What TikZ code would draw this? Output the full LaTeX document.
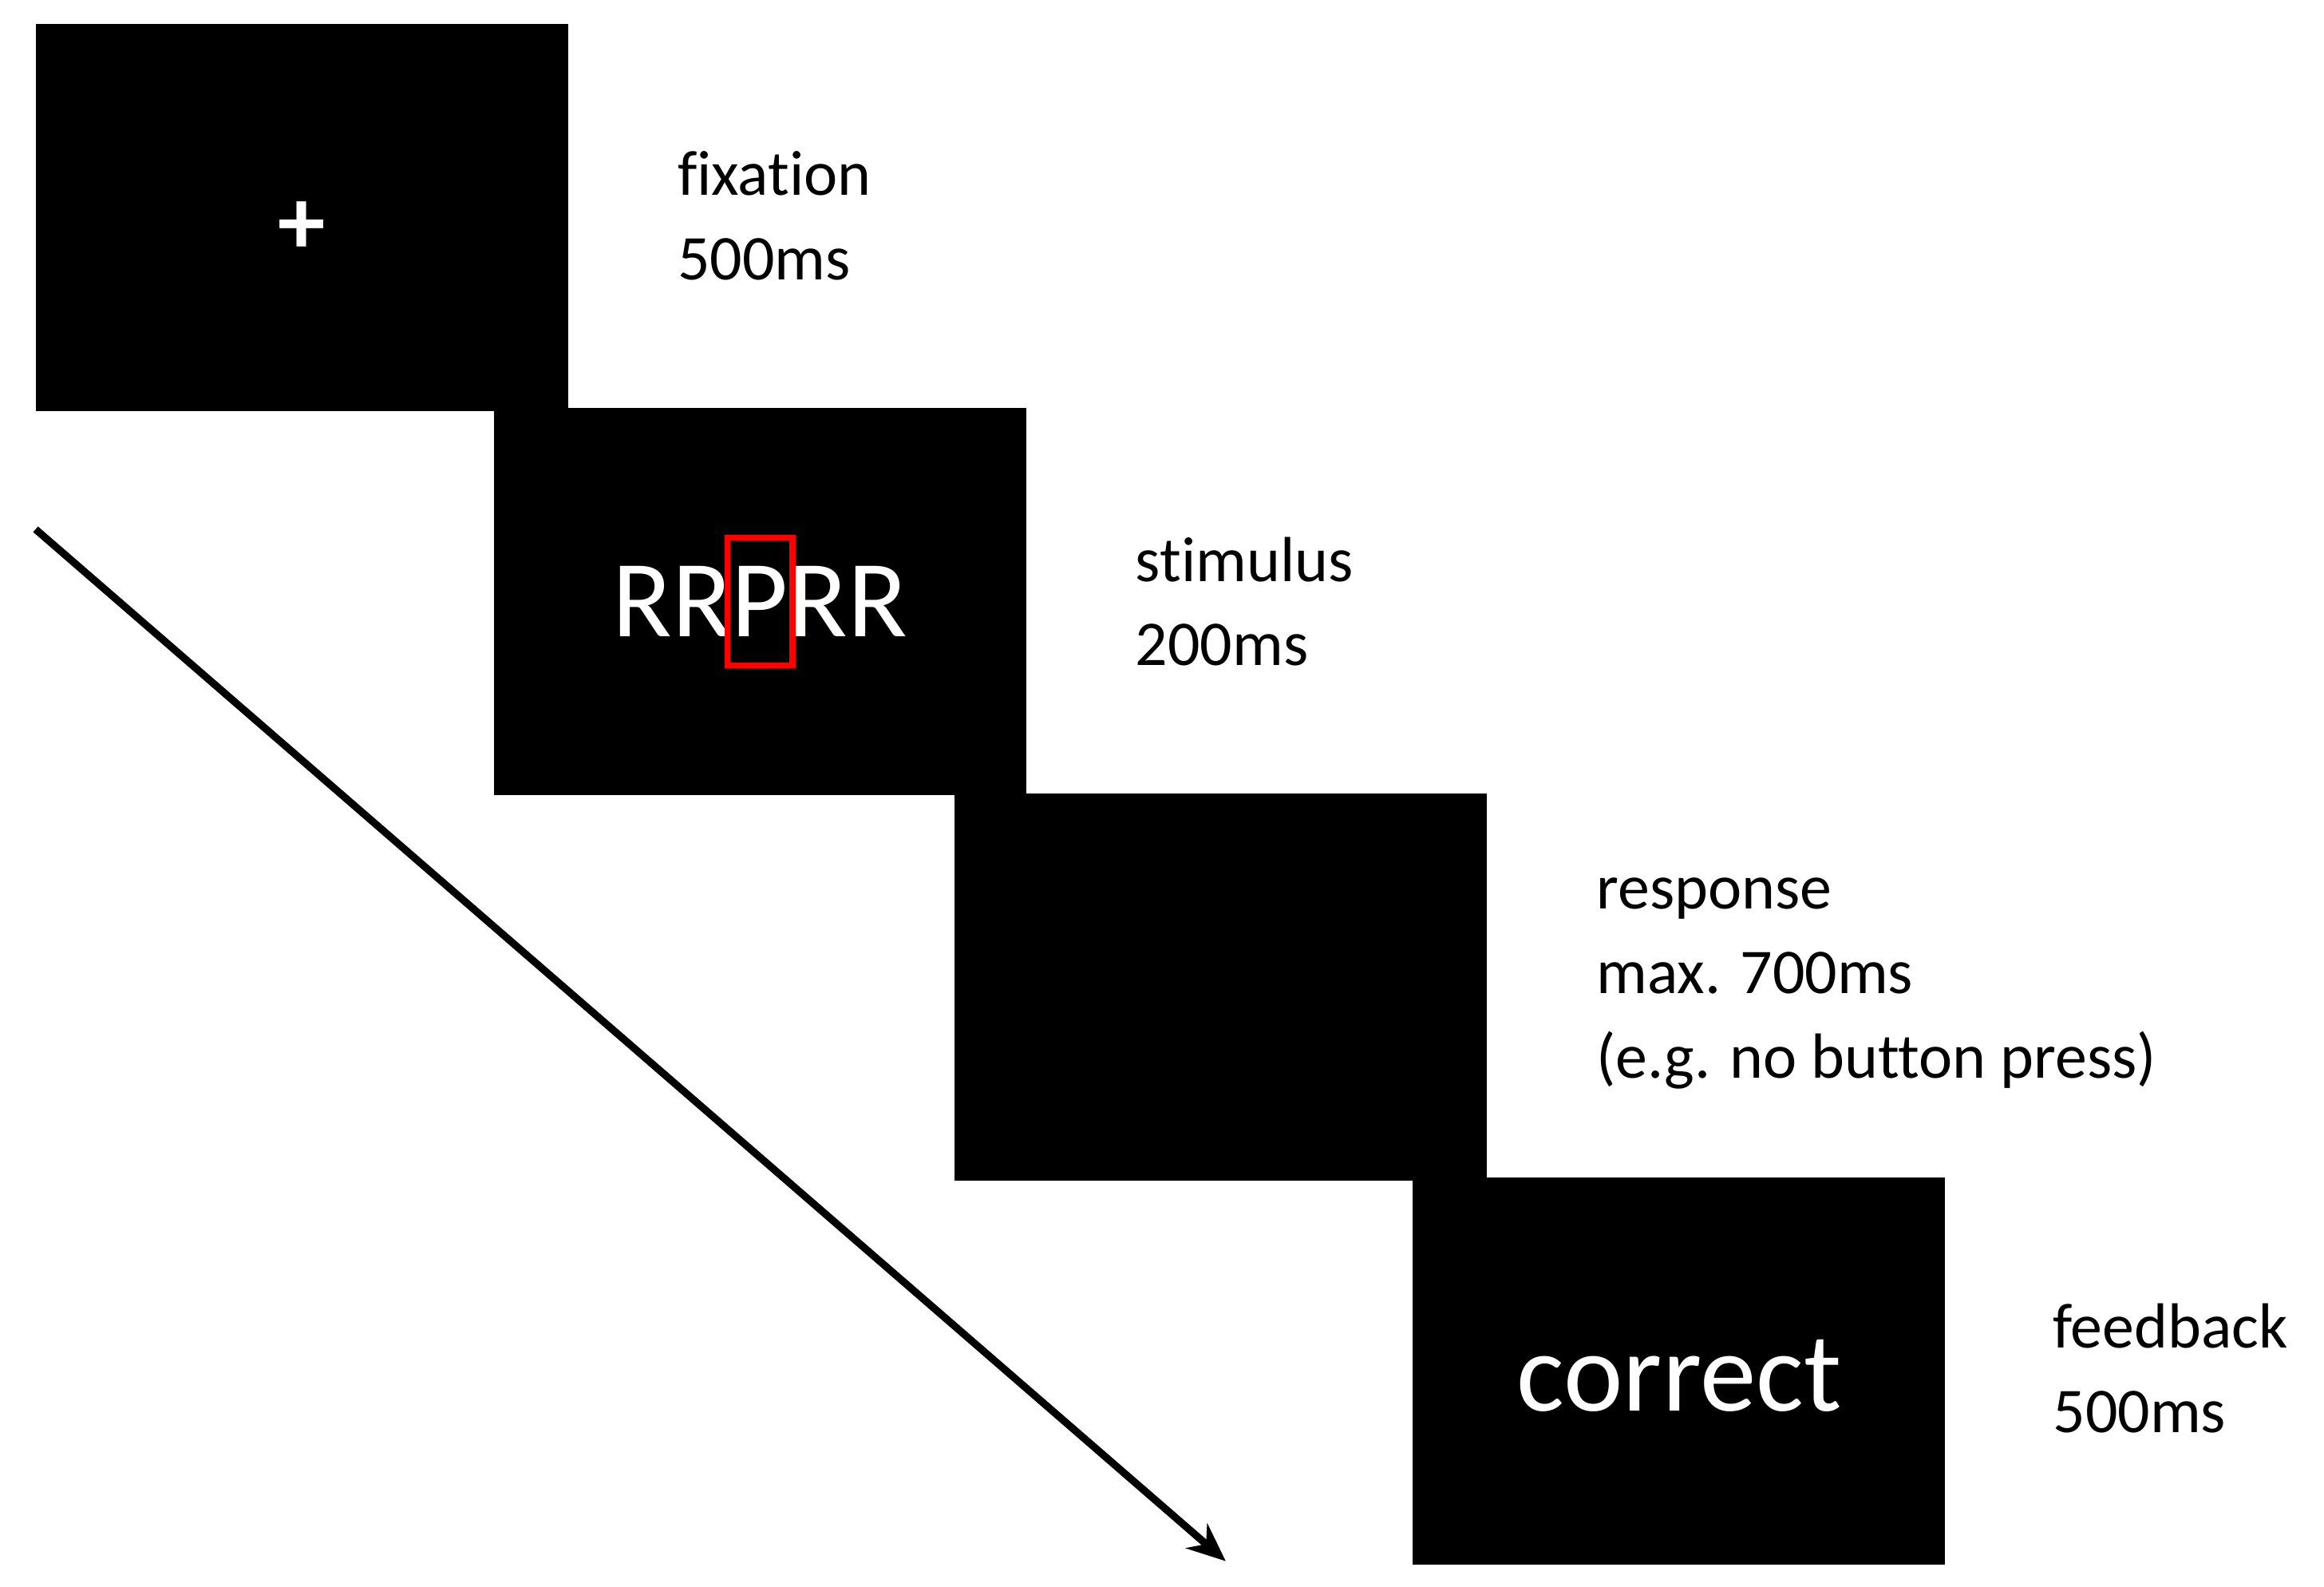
\documentclass[tikz,border=0pt]{standalone}
\usepackage{fontspec}
\setmainfont[RawFeature=-liga]{Carlito}
\usetikzlibrary{arrows.meta}
\begin{document}
\begin{tikzpicture}[x=1pt,y=-1pt,
  screen/.style={fill=black,draw=none,minimum width=359pt,minimum height=261pt,inner sep=0pt,anchor=north west},
  lab/.style={anchor=north west,align=left,inner sep=0pt,font=\fontsize{43}{57}\selectfont}]
\useasboundingbox (0,0) rectangle (1568,1070);
\node[screen] (s1) at (24,16) {};
\node[screen] (s2) at (333,275) {};
\node[screen] (s3) at (644,535) {};
\node[screen] (s4) at (953,794) {};
\node[text=white,font=\bfseries\fontsize{64}{64}\selectfont] (plus) at ([yshift=-7pt]s1.center) {+};
\node[text=white,font=\fontsize{74}{74}\selectfont,inner sep=0pt] (rr) at (s2.center) {RR\hphantom{P}RR};
\node[text=white,font=\fontsize{74}{74}\selectfont,inner sep=0pt,draw=red,line width=4pt,minimum width=44pt,minimum height=86pt] (p) at (s2.center) {P};
\node[text=white,font=\fontsize{76}{76}\selectfont] (c) at (1133,928) {correct};
\node[lab] (l1) at (457,102) {fixation\\500ms};
\node[lab] (l2) at (766,362) {stimulus\\200ms};
\node[lab] (l3) at (1077,592) {response\\max. 700ms\\(e.g. no button press)};
\node[lab] (l4) at (1385,879) {feedback\\500ms};
\coordinate (a0) at (24,357);
\coordinate (a1) at (827,1053);
\draw[line width=5pt,-{Stealth[length=26pt,width=22pt]}] (a0) -- (a1);
\end{tikzpicture}
\end{document}
